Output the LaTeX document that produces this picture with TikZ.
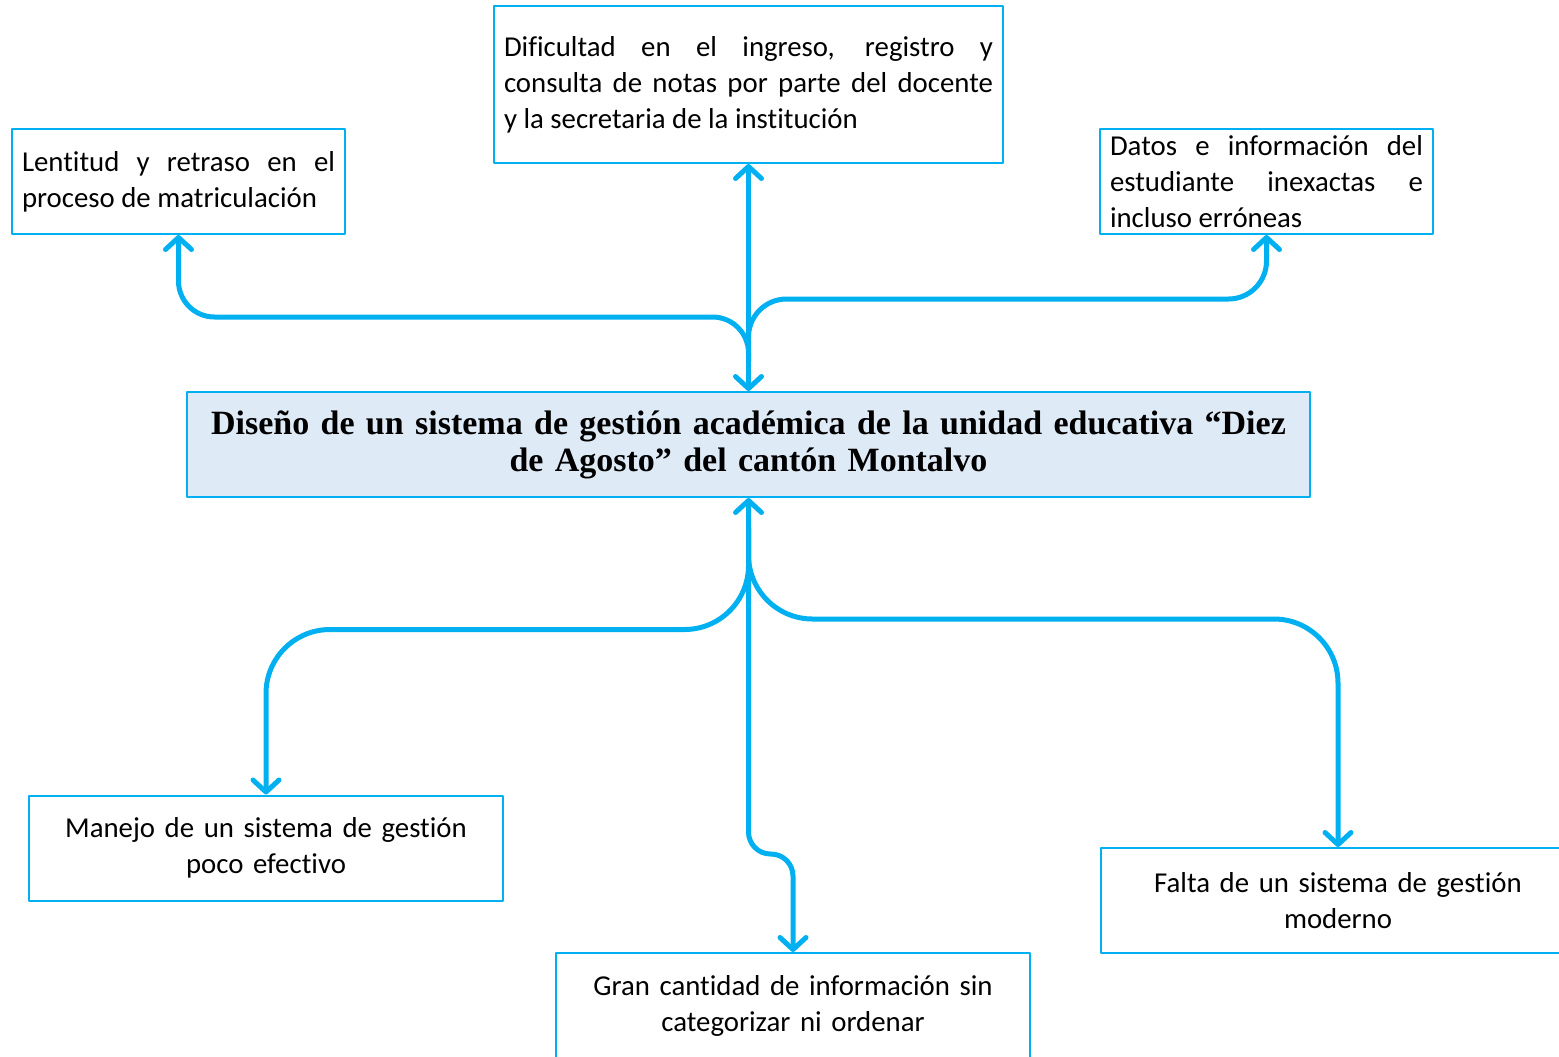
\documentclass[tikz,border=0pt]{standalone}
\usepackage{fontspec}
\setmainfont{Carlito}[Ligatures=NoCommon]
\newfontfamily\titlefont{Liberation Serif}
\usepackage{tikz}
\usetikzlibrary{arrows.meta,calc}
\definecolor{linecyan}{HTML}{00B0F0}
\definecolor{titlefill}{HTML}{DEEAF6}

\begin{document}
\begin{tikzpicture}[x=0.5pt,y=-0.5pt,line join=round,
  >={Straight Barb[length=6pt,width=13pt,round]},
  box/.style={draw=linecyan,line width=1pt,inner xsep=5pt,inner ysep=0pt,
    font=\fontsize{14.4}{18}\selectfont},
  jbox/.style={box,align=justify},
  cbox/.style={box,align=center,text width=227pt,minimum height=52.5pt},
  flow/.style={draw=linecyan,line width=2.5pt}]
  \useasboundingbox (0,0) rectangle (1559,1056);
  \node[jbox,text width=156.5pt,minimum height=52.5pt] (lent) at (178.5,181.5)
    {Lentitud y retraso en el\linebreak proceso de matriculación};
  \node[jbox,text width=244.5pt,minimum height=78.5pt] (dif) at (748.5,84.5)
    {Dificultad en el ingreso, registro y\linebreak consulta de notas por parte del docente\linebreak y la secretaria de la institución};
  \node[jbox,text width=156.5pt,minimum height=52.5pt] (dat) at (1266.5,181.5)
    {Datos e información del\linebreak estudiante inexactas e\linebreak incluso erróneas};
  \node[draw=linecyan,line width=1pt,fill=titlefill,align=center,text width=551.5pt,
    minimum height=52.5pt,inner xsep=5pt,inner ysep=0pt,
    font=\titlefont\bfseries\fontsize{17}{18.5}\selectfont] (ctr) at (748.5,444.5)
    {Diseño de un sistema de gestión académica de la unidad educativa “Diez\\ de Agosto” del cantón Montalvo};
  \node[cbox] (man) at (266,848) {Manejo de un sistema de gestión\\ poco efectivo};
  \node[cbox] (gran) at (793,1005.5) {Gran cantidad de información sin\\ categorizar ni ordenar};
  \node[cbox] (fal) at (1338,900.5) {Falta de un sistema de gestión\\ moderno};
  \coordinate (ttop) at ($(ctr.north)+(0,-30)$);
  \coordinate (tbot) at ($(ctr.south)+(0,30)$);
  \draw[flow,<->] (dif.south) -- (ctr.north);
  \draw[flow,->,rounded corners=18pt] (ttop) |- ($(lent.south)+(0,82)$) -- (lent.south);
  \draw[flow,->,rounded corners=19pt] (ttop) |- ($(dat.south)+(0,64)$) -- (dat.south);
  \draw[flow,<->,rounded corners=11pt] (ctr.south) |- ($(gran.north)+(0,-98)$) -- (gran.north);
  \draw[flow,->,rounded corners=32pt] (tbot) |- ($(man.north)+(0,-165)$) -- (man.north);
  \draw[flow,->,rounded corners=32pt] (tbot) |- ($(fal.north)+(0,-228)$) -- (fal.north);
\end{tikzpicture}
\end{document}
